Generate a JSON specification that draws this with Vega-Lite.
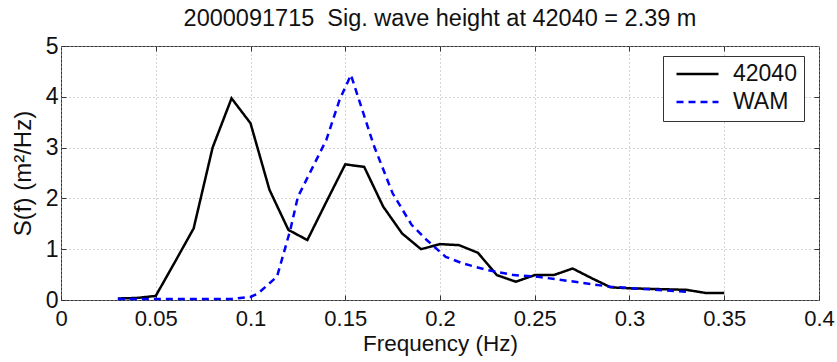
{
  "$schema": "https://vega.github.io/schema/vega-lite/v6.json",
  "autosize": {"type": "none"},
  "width": 758,
  "height": 254,
  "padding": {"left": 61, "top": 46, "right": 18, "bottom": 62},
  "background": "white",
  "config": {
    "font": "Liberation Sans",
    "view": {"stroke": "#333", "strokeWidth": 1},
    "axis": {"labelFont": "Liberation Sans", "titleFont": "Liberation Sans", "labelColor": "#111", "titleColor": "#111", "titleFontWeight": "normal"}
  },
  "title": {"text": "2000091715 \u00a0Sig. wave height at 42040 = 2.39 m", "fontSize": 23.5, "fontWeight": "normal", "color": "#111", "offset": 5, "anchor": "middle", "font": "Liberation Sans"},
  "data": {"values": [
    {"f": 0.03, "S": 0.03, "series": "42040"},
    {"f": 0.04, "S": 0.04, "series": "42040"},
    {"f": 0.05, "S": 0.08, "series": "42040"},
    {"f": 0.06, "S": 0.74, "series": "42040"},
    {"f": 0.07, "S": 1.41, "series": "42040"},
    {"f": 0.08, "S": 3.0, "series": "42040"},
    {"f": 0.09, "S": 3.97, "series": "42040"},
    {"f": 0.10, "S": 3.48, "series": "42040"},
    {"f": 0.11, "S": 2.17, "series": "42040"},
    {"f": 0.12, "S": 1.38, "series": "42040"},
    {"f": 0.13, "S": 1.18, "series": "42040"},
    {"f": 0.14, "S": 1.93, "series": "42040"},
    {"f": 0.15, "S": 2.67, "series": "42040"},
    {"f": 0.16, "S": 2.62, "series": "42040"},
    {"f": 0.17, "S": 1.84, "series": "42040"},
    {"f": 0.18, "S": 1.31, "series": "42040"},
    {"f": 0.19, "S": 1.0, "series": "42040"},
    {"f": 0.20, "S": 1.10, "series": "42040"},
    {"f": 0.21, "S": 1.08, "series": "42040"},
    {"f": 0.22, "S": 0.93, "series": "42040"},
    {"f": 0.23, "S": 0.49, "series": "42040"},
    {"f": 0.24, "S": 0.36, "series": "42040"},
    {"f": 0.25, "S": 0.49, "series": "42040"},
    {"f": 0.26, "S": 0.49, "series": "42040"},
    {"f": 0.27, "S": 0.62, "series": "42040"},
    {"f": 0.28, "S": 0.43, "series": "42040"},
    {"f": 0.29, "S": 0.25, "series": "42040"},
    {"f": 0.30, "S": 0.23, "series": "42040"},
    {"f": 0.31, "S": 0.22, "series": "42040"},
    {"f": 0.32, "S": 0.21, "series": "42040"},
    {"f": 0.33, "S": 0.20, "series": "42040"},
    {"f": 0.34, "S": 0.14, "series": "42040"},
    {"f": 0.35, "S": 0.14, "series": "42040"},
    {"f": 0.03, "S": 0.02, "series": "WAM"},
    {"f": 0.05, "S": 0.02, "series": "WAM"},
    {"f": 0.07, "S": 0.02, "series": "WAM"},
    {"f": 0.09, "S": 0.02, "series": "WAM"},
    {"f": 0.10, "S": 0.06, "series": "WAM"},
    {"f": 0.104, "S": 0.13, "series": "WAM"},
    {"f": 0.114, "S": 0.46, "series": "WAM"},
    {"f": 0.121, "S": 1.38, "series": "WAM"},
    {"f": 0.125, "S": 2.03, "series": "WAM"},
    {"f": 0.14, "S": 3.15, "series": "WAM"},
    {"f": 0.147, "S": 3.94, "series": "WAM"},
    {"f": 0.153, "S": 4.43, "series": "WAM"},
    {"f": 0.165, "S": 3.05, "series": "WAM"},
    {"f": 0.175, "S": 2.1, "series": "WAM"},
    {"f": 0.185, "S": 1.48, "series": "WAM"},
    {"f": 0.193, "S": 1.18, "series": "WAM"},
    {"f": 0.203, "S": 0.85, "series": "WAM"},
    {"f": 0.212, "S": 0.72, "series": "WAM"},
    {"f": 0.225, "S": 0.59, "series": "WAM"},
    {"f": 0.239, "S": 0.49, "series": "WAM"},
    {"f": 0.251, "S": 0.46, "series": "WAM"},
    {"f": 0.265, "S": 0.39, "series": "WAM"},
    {"f": 0.29, "S": 0.26, "series": "WAM"},
    {"f": 0.31, "S": 0.21, "series": "WAM"},
    {"f": 0.33, "S": 0.16, "series": "WAM"}
  ]},
  "layer": [
    {
      "mark": {"type": "line", "opacity": 0},
      "encoding": {
        "x": {"field": "f", "type": "quantitative", "scale": {"domain": [0, 0.4], "nice": false, "zero": false},
              "axis": {"orient": "top", "labels": false, "title": null, "grid": false, "domain": false, "tickSize": -5, "tickColor": "#333", "values": [0.05,0.1,0.15,0.2,0.25,0.3,0.35]}},
        "y": {"field": "S", "type": "quantitative", "scale": {"domain": [0, 5], "nice": false},
              "axis": {"orient": "right", "labels": false, "title": null, "grid": false, "domain": false, "tickSize": -5, "tickColor": "#333", "values": [1,2,3,4]}}
      }
    },
    {
      "mark": {"type": "line", "strokeWidth": 2.5},
      "encoding": {
        "x": {"field": "f", "type": "quantitative", "scale": {"domain": [0, 0.4], "nice": false, "zero": false},
              "axis": {"orient": "bottom", "title": "Frequency (Hz)", "titleFontSize": 22.5, "labelFontSize": 22, "format": "~g", "values": [0,0.05,0.1,0.15,0.2,0.25,0.3,0.35,0.4], "labelPadding": 13, "titlePadding": 3, "tickSize": -5, "tickColor": "#333", "domain": false, "grid": true, "gridColor": "#aaa", "gridDash": [1, 3], "gridWidth": 1, "labelFlush": false}},
        "y": {"field": "S", "type": "quantitative", "scale": {"domain": [0, 5], "nice": false},
              "axis": {"orient": "left", "title": "S(f) (m²/Hz)", "titleFontSize": 24, "labelFontSize": 23, "format": "~g", "values": [0,1,2,3,4,5], "labelPadding": 8, "titlePadding": 10, "tickSize": -5, "tickColor": "#333", "domain": false, "grid": true, "gridColor": "#aaa", "gridDash": [1, 3], "gridWidth": 1, "labelFlush": false}},
        "color": {"field": "series", "type": "nominal", "scale": {"domain": ["42040", "WAM"], "range": ["#000000", "#0000ff"]},
                  "legend": {"title": null, "orient": "none", "legendX": 602, "legendY": 10, "strokeColor": "#333", "fillColor": "white", "padding": 7, "symbolOffset": 5, "clipHeight": 22, "symbolType": "stroke", "symbolSize": 1764, "symbolStrokeWidth": 2.5, "labelFontSize": 23, "labelFont": "Liberation Sans", "labelColor": "#111", "rowPadding": 5, "labelOffset": 13}},
        "strokeDash": {"field": "series", "type": "nominal", "scale": {"domain": ["42040", "WAM"], "range": [[1, 0], [7, 5]]}, "legend": null}
      }
    }
  ],
  "resolve": {"axis": {"x": "independent", "y": "independent"}}
}
